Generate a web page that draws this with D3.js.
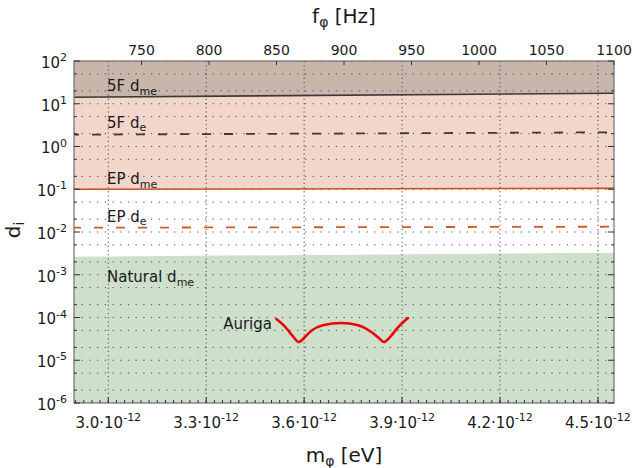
<!DOCTYPE html>
<html>
<head>
<meta charset="utf-8">
<script src="https://cdn.jsdelivr.net/npm/d3@7"></script>
<style>
  body { margin: 0; background: #fff; }
  text { font-family: "DejaVu Sans", sans-serif; fill: #1a1a1a; }
</style>
</head>
<body>
<svg id="chart" width="636" height="468"></svg>
<script>
// Planck constant in eV·s, links scalar mass m = h·f to the signal frequency f
const PLANCK_EV_S = 4.135667e-15;

// frequency span covered by the plot [Hz]
const freqSpanHz = [700, 1100];

// axis ticks
const massTicks = [3.0e-12, 3.3e-12, 3.6e-12, 3.9e-12, 4.2e-12, 4.5e-12];
const massTickLabels = ["3.0", "3.3", "3.6", "3.9", "4.2", "4.5"];
const massMinorStep = 0.025e-12;
const freqTicks = [750, 800, 850, 900, 950, 1000, 1050, 1100];
const freqTickLabels = ["750", "800", "850", "900", "950", "1000", "1050", "1100"];
const couplingTickExps = [-6, -5, -4, -3, -2, -1, 0, 1, 2];
const couplingTickLabels = ["-6", "-5", "-4", "-3", "-2", "-1", "0", "1", "2"];
const gridMantissas = [1, 2, 5];

// existing bounds, sampled at the two frequency ends [Hz]
const boundFreqHz = [700, 1100];
const fifthForceDme = [14.2, 17.6];
const fifthForceDe = [1.89, 2.15];
const eqPrincipleDme = [0.100, 0.105];
const eqPrincipleDe = [0.0126, 0.0133];
const naturalDme = [2.64e-3, 3.28e-3];
const couplingTop = 1e2;
const couplingBottom = 1e-6;

// AURIGA sensitivity curve
const aurigaFreqHz = [849.9, 856.1, 862.2, 866.4, 870.9, 875.8, 884.4, 898.0,
                      910.4, 920.2, 926.4, 929.6, 933.9, 940.0, 947.4];
const aurigaD = [9.23e-5, 6.22e-5, 3.63e-5, 2.67e-5, 3.44e-5, 4.91e-5, 6.58e-5, 7.43e-5,
                 6.58e-5, 4.58e-5, 3.19e-5, 2.67e-5, 3.44e-5, 5.90e-5, 9.72e-5];

const svg = d3.select("#chart");
const plot = { left: 74, right: 614, top: 61, bottom: 403 };

const x = d3.scaleLinear()
  .domain(freqSpanHz.map(f => f * PLANCK_EV_S))
  .range([plot.left, plot.right]);
const y = d3.scaleLog()
  .domain([couplingBottom, couplingTop])
  .range([plot.bottom, plot.top]);

const massOf = f => f * PLANCK_EV_S;
const zip = (fs, vs) => fs.map((f, i) => ({ m: massOf(f), v: vs[i] }));

const clip = svg.append("defs").append("clipPath").attr("id", "plotclip")
  .append("rect")
  .attr("x", plot.left).attr("y", plot.top)
  .attr("width", plot.right - plot.left).attr("height", plot.bottom - plot.top);

const g = svg.append("g").attr("clip-path", "url(#plotclip)");

// excluded / natural regions
const band = (lower, upper) => d3.area()
  .x((d, i) => x(d.m))
  .y0((d, i) => y(lower[i]))
  .y1((d, i) => y(upper[i]));
const pts = zip(boundFreqHz, boundFreqHz);
const topArr = boundFreqHz.map(() => couplingTop);
const botArr = boundFreqHz.map(() => couplingBottom);

g.append("path").datum(pts).attr("fill", "#c9b6aa").attr("d", band(fifthForceDme, topArr));
g.append("path").datum(pts).attr("fill", "#f2d6cb").attr("d", band(eqPrincipleDme, fifthForceDme));
g.append("path").datum(pts).attr("fill", "#cee0cb").attr("d", band(botArr, naturalDme));

// dotted grid
const gridVals = [];
for (let e = -6; e <= 2; e++) {
  for (const k of gridMantissas) {
    const v = k * Math.pow(10, e);
    if (v <= couplingTop) gridVals.push(v);
  }
}
g.append("g").selectAll("line").data(gridVals).join("line")
  .attr("x1", plot.left).attr("x2", plot.right)
  .attr("y1", d => y(d)).attr("y2", d => y(d))
  .attr("stroke", "#4a4a4a").attr("stroke-width", 1)
  .attr("stroke-dasharray", "1.2,6.5");
g.append("g").selectAll("line").data(massTicks).join("line")
  .attr("x1", d => x(d)).attr("x2", d => x(d))
  .attr("y1", plot.top).attr("y2", plot.bottom)
  .attr("stroke", "#4a4a4a").attr("stroke-width", 1)
  .attr("stroke-dasharray", "1.2,3");

// bound lines
const line = d3.line().x(d => x(d.m)).y(d => y(d.v));
g.append("path").datum(zip(boundFreqHz, fifthForceDme)).attr("d", line)
  .attr("fill", "none").attr("stroke", "#3a3a3a").attr("stroke-width", 1.6);
g.append("path").datum(zip(boundFreqHz, fifthForceDe)).attr("d", line)
  .attr("fill", "none").attr("stroke", "#3a3a3a").attr("stroke-width", 1.8)
  .attr("stroke-dasharray", "9,13").attr("stroke-dashoffset", 4);
g.append("path").datum(zip(boundFreqHz, eqPrincipleDme)).attr("d", line)
  .attr("fill", "none").attr("stroke", "#c8501e").attr("stroke-width", 1.6);
g.append("path").datum(zip(boundFreqHz, eqPrincipleDe)).attr("d", line)
  .attr("fill", "none").attr("stroke", "#d2581f").attr("stroke-width", 1.8)
  .attr("stroke-dasharray", "9,13").attr("stroke-dashoffset", 2);

// AURIGA curve
g.append("path").datum(zip(aurigaFreqHz, aurigaD))
  .attr("d", d3.line().x(d => x(d.m)).y(d => y(d.v)).curve(d3.curveMonotoneX))
  .attr("fill", "none").attr("stroke", "#f00000").attr("stroke-width", 2.6)
  .attr("stroke-linejoin", "round").attr("stroke-linecap", "round");

// in-plot labels with subscripts
function subLabel(px, py, main, sub) {
  const t = svg.append("text").attr("x", px).attr("y", py).attr("font-size", 15);
  t.append("tspan").text(main);
  if (sub) t.append("tspan").attr("font-size", 11).attr("dy", 3.5).text(sub);
  return t;
}
subLabel(107, 91, "5F d", "me");
subLabel(107, 127.5, "5F d", "e");
subLabel(107, 184, "EP d", "me");
subLabel(107, 221.5, "EP d", "e");
subLabel(107, 282, "Natural d", "me");
svg.append("text").attr("x", 272).attr("y", 329).attr("font-size", 15)
  .attr("text-anchor", "end").text("Auriga");

// frame
svg.append("rect")
  .attr("x", plot.left).attr("y", plot.top)
  .attr("width", plot.right - plot.left).attr("height", plot.bottom - plot.top)
  .attr("fill", "none").attr("stroke", "#707070").attr("stroke-width", 1.2);

// bottom axis: mass
const minorMass = d3.range(2.9e-12, 4.56e-12, massMinorStep)
  .filter(m => x(m) > plot.left + 1 && x(m) < plot.right - 1);
const tickG = svg.append("g").attr("stroke", "#333").attr("stroke-width", 1);
tickG.selectAll(".mn").data(minorMass).join("line")
  .attr("x1", d => x(d)).attr("x2", d => x(d))
  .attr("y1", plot.bottom).attr("y2", plot.bottom - 3);
tickG.selectAll(".mj").data(massTicks).join("line")
  .attr("x1", d => x(d)).attr("x2", d => x(d))
  .attr("y1", plot.bottom).attr("y2", plot.bottom - 6);
massTicks.forEach((m, i) => {
  const t = svg.append("text").attr("x", x(m)).attr("y", 427.5)
    .attr("font-size", 15).attr("text-anchor", "middle");
  t.append("tspan").text(massTickLabels[i] + "·10");
  t.append("tspan").attr("font-size", 11).attr("dy", -6.5).text("-12");
});

// top axis: frequency
tickG.selectAll(".ft").data(freqTicks).join("line")
  .attr("x1", d => x(massOf(d))).attr("x2", d => x(massOf(d)))
  .attr("y1", plot.top).attr("y2", plot.top + 4);
freqTicks.forEach((f, i) => {
  svg.append("text").attr("x", x(massOf(f))).attr("y", 55)
    .attr("font-size", 14).attr("text-anchor", "middle").text(freqTickLabels[i]);
});

// left axis: coupling
tickG.selectAll(".yt").data(gridVals).join("line")
  .attr("x1", plot.left).attr("x2", d => plot.left + (Number.isInteger(Math.log10(d)) ? 6 : 3))
  .attr("y1", d => y(d)).attr("y2", d => y(d));
tickG.selectAll(".yr").data(gridVals).join("line")
  .attr("x1", plot.right).attr("x2", d => plot.right - (Number.isInteger(Math.log10(d)) ? 6 : 3))
  .attr("y1", d => y(d)).attr("y2", d => y(d));
couplingTickExps.forEach((e, i) => {
  const t = svg.append("text").attr("x", 67).attr("y", y(Math.pow(10, e)) + 6.8)
    .attr("font-size", 15).attr("text-anchor", "end");
  t.append("tspan").text("10");
  t.append("tspan").attr("font-size", 11).attr("dy", -6.6).text(couplingTickLabels[i]);
});

// axis titles
const xt = svg.append("text").attr("x", 344).attr("y", 462)
  .attr("font-size", 20).attr("text-anchor", "middle");
xt.append("tspan").text("m");
xt.append("tspan").attr("font-size", 14).attr("dy", 4).text("φ");
xt.append("tspan").attr("dy", -4).text(" [eV]");

const ft = svg.append("text").attr("x", 344).attr("y", 22.5)
  .attr("font-size", 20).attr("text-anchor", "middle");
ft.append("tspan").text("f");
ft.append("tspan").attr("font-size", 14).attr("dy", 4).text("φ");
ft.append("tspan").attr("dy", -4).text(" [Hz]");

const yt = svg.append("text").attr("transform", "translate(20,230) rotate(-90)")
  .attr("font-size", 20).attr("text-anchor", "middle");
yt.append("tspan").text("d");
yt.append("tspan").attr("font-size", 14).attr("dy", 4).text("i");
</script>
</body>
</html>
